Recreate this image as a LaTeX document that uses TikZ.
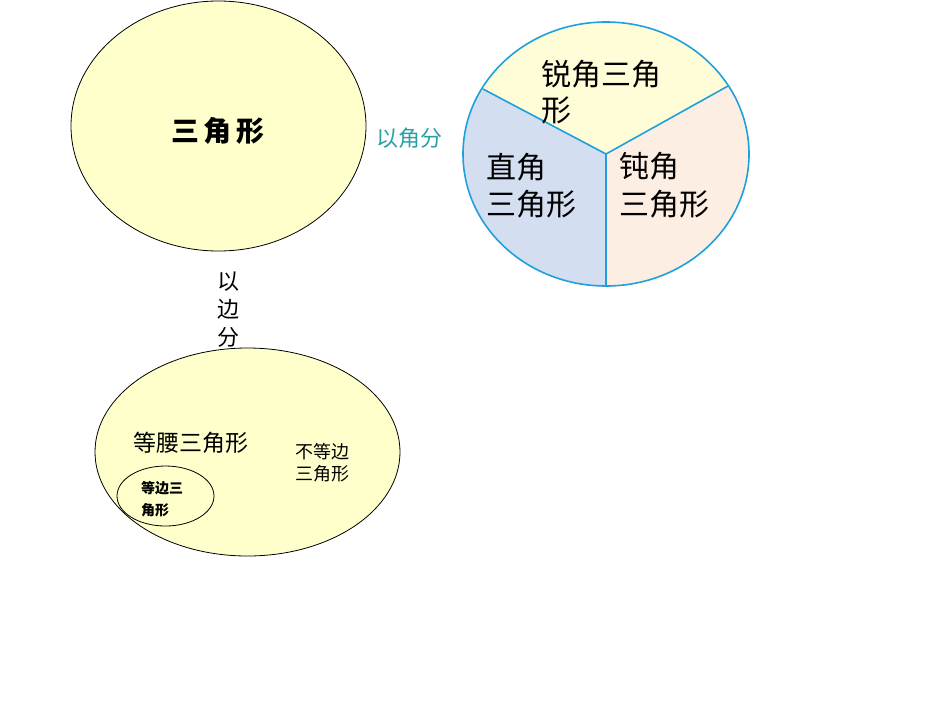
\documentclass[tikz,border=0pt]{standalone}
\usepackage{fontspec}
\setmainfont{Noto Sans CJK SC}
\usepackage{xcolor}
\usepackage{tikz}
\usetikzlibrary{calc}
\usetikzlibrary{shapes.geometric}
\definecolor{setfill}{RGB}{255,255,204}
\definecolor{piefill}{RGB}{255,253,215}
\definecolor{rightfill}{RGB}{211,222,240}
\definecolor{obtusefill}{RGB}{253,238,228}
\definecolor{pieline}{RGB}{30,160,220}
\definecolor{splitcolor}{RGB}{40,160,165}
\newcommand\fsz[2]{\fontsize{#1}{#2}\selectfont}
\tikzstyle{region}=[ellipse,draw=black,line width=.8pt,fill=setfill,inner sep=0pt]
\tikzstyle{lbl}=[inner sep=0pt,align=left,anchor=west]
\tikzstyle{sector}=[draw=pieline,line width=1.6pt]
\begin{document}
\begin{tikzpicture}[x=1pt,y=-1pt]
	\useasboundingbox (0,0) rectangle (950,713);
	% the whole set
	\node[region,minimum width=295pt,minimum height=250pt] (tri) at (218.5,126) {};
	\node[inner sep=0pt,font=\fsz{28}{34}\bfseries] (tri-t) at (218,131) {三\,角\,形};
	\node[inner sep=0pt,text=splitcolor,font=\fsz{22}{26}] (byangle) at (409,138) {以角分};
	\node[inner sep=0pt,align=center,font=\fsz{22}{28}] (byside) at (228,310) {以\\边\\分};
	% split by angles
	\coordinate (pie) at (606,154);
	\coordinate (pie-l) at (483,89);
	\coordinate (pie-r) at (728,86);
	\coordinate (pie-b) at (606,286);
	\begin{scope}
		\clip (pie) ellipse (143 and 132);
		\fill[piefill] (pie) ellipse (143 and 132);
		\fill[rightfill] (pie) -- ($(pie)!2!(pie-l)$) -- ++(-100,400) -- (606,500) -- cycle;
		\fill[obtusefill] (pie) -- ($(pie)!2!(pie-r)$) -- ++(100,400) -- (606,500) -- cycle;
	\end{scope}
	\draw[sector] (pie-l) -- (pie) -- (pie-r) (pie) -- (pie-b);
	\draw[sector] (pie) ellipse (143 and 132);
	\node[lbl,font=\fsz{30}{36}] (acute) at (541,92) {锐角三角\\形};
	\node[lbl,font=\fsz{30}{37}] (right) at (486,185.5) {直角\\三角形};
	\node[lbl,font=\fsz{30}{38}] (obtuse) at (619,185) {钝角\\三角形};
	% split by sides
	\node[region,minimum width=305pt,minimum height=208pt] (side) at (247.5,452) {};
	\node[lbl,font=\fsz{23}{28}] (iso) at (133,443) {等腰三角形};
	\node[lbl,font=\fsz{18}{22}] (scal) at (295,463) {不等边\\三角形};
	\node[region,minimum width=97pt,minimum height=60pt] (equi) at (165.5,496) {};
	\node[lbl,font=\fsz{14}{22}\bfseries] (equi-t) at (141,499) {等边三\\角形};
\end{tikzpicture}
\end{document}
